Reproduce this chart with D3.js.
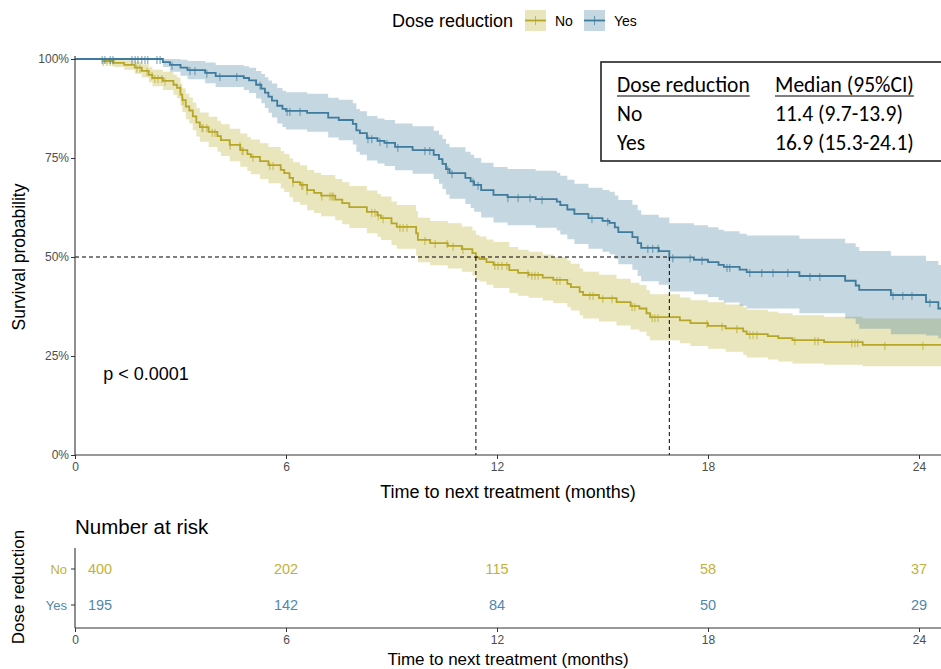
<!DOCTYPE html>
<html>
<head>
<meta charset="utf-8">
<script src="https://cdn.jsdelivr.net/npm/d3@7"></script>
<style>
  body { margin: 0; background: #fff; }
  svg { display: block; font-family: "Liberation Sans", Arial, sans-serif; }
</style>
</head>
<body>
<svg id="chart" width="941" height="669"></svg>
<script>
// ---- Kaplan-Meier estimates: time to next treatment by dose reduction ----
const groups = ["No", "Yes"];

// Group "No": step times (months), survival, 95% CI bounds, censoring times
const noTime  = [0, 0.8, 1.1, 1.4, 1.7, 1.9, 2.1, 2.2, 2.5, 2.8, 2.9, 3.0, 3.05, 3.15, 3.25, 3.35, 3.45, 3.55, 3.8, 4.05, 4.15, 4.4, 4.7, 4.9, 5.0, 5.26, 5.5, 5.85, 5.95, 6.1, 6.2, 6.4, 6.6, 6.8, 7.0, 7.4, 7.6, 7.8, 8.3, 8.6, 8.7, 9.0, 9.15, 9.7, 9.75, 10.1, 10.6, 11.0, 11.3, 11.4, 11.5, 11.7, 11.9, 12.35, 12.6, 12.9, 13.3, 13.6, 14.0, 14.1, 14.35, 14.45, 14.9, 15.4, 15.8, 16.05, 16.25, 16.35, 17.2, 17.5, 18.0, 18.5, 19.0, 19.1, 19.7, 20.0, 20.4, 21.3, 22.4];
const noSurv  = [1, 0.995, 0.99, 0.985, 0.978, 0.97, 0.96, 0.952, 0.945, 0.935, 0.927, 0.91, 0.896, 0.88, 0.87, 0.855, 0.84, 0.828, 0.816, 0.805, 0.795, 0.783, 0.77, 0.76, 0.753, 0.742, 0.732, 0.72, 0.712, 0.70, 0.689, 0.682, 0.669, 0.662, 0.655, 0.645, 0.636, 0.626, 0.614, 0.605, 0.598, 0.585, 0.576, 0.56, 0.543, 0.535, 0.528, 0.52, 0.51, 0.499, 0.495, 0.487, 0.48, 0.467, 0.46, 0.455, 0.448, 0.442, 0.432, 0.424, 0.412, 0.404, 0.396, 0.386, 0.376, 0.37, 0.358, 0.348, 0.34, 0.333, 0.326, 0.32, 0.312, 0.305, 0.30, 0.295, 0.29, 0.285, 0.278];
const noLower = [1, 0.988, 0.98, 0.973, 0.963, 0.953, 0.941, 0.931, 0.922, 0.91, 0.901, 0.882, 0.866, 0.848, 0.837, 0.82, 0.804, 0.791, 0.778, 0.766, 0.755, 0.742, 0.728, 0.717, 0.709, 0.697, 0.686, 0.673, 0.664, 0.651, 0.639, 0.632, 0.618, 0.611, 0.603, 0.593, 0.583, 0.573, 0.56, 0.551, 0.543, 0.53, 0.521, 0.504, 0.487, 0.479, 0.471, 0.463, 0.453, 0.442, 0.438, 0.43, 0.422, 0.409, 0.402, 0.397, 0.39, 0.384, 0.373, 0.365, 0.353, 0.345, 0.337, 0.327, 0.317, 0.311, 0.30, 0.29, 0.282, 0.275, 0.268, 0.261, 0.253, 0.246, 0.241, 0.236, 0.231, 0.228, 0.224];
const noUpper = [1, 1, 1, 0.997, 0.993, 0.987, 0.979, 0.973, 0.968, 0.96, 0.953, 0.938, 0.926, 0.912, 0.903, 0.89, 0.876, 0.865, 0.854, 0.844, 0.835, 0.824, 0.812, 0.803, 0.797, 0.787, 0.778, 0.767, 0.76, 0.749, 0.739, 0.732, 0.72, 0.713, 0.707, 0.697, 0.689, 0.679, 0.668, 0.659, 0.653, 0.64, 0.631, 0.616, 0.599, 0.591, 0.585, 0.577, 0.567, 0.556, 0.552, 0.544, 0.538, 0.525, 0.518, 0.513, 0.506, 0.50, 0.491, 0.483, 0.471, 0.463, 0.455, 0.445, 0.435, 0.429, 0.416, 0.406, 0.398, 0.391, 0.386, 0.38, 0.373, 0.367, 0.362, 0.358, 0.353, 0.349, 0.345];
const noCensor = [0.8, 0.91, 1.0, 1.08, 1.76, 1.85, 2.05, 2.19, 2.27, 2.36, 2.47, 2.56, 2.99, 3.07, 3.61, 3.64, 3.75, 3.9, 3.98, 4.41, 4.69, 4.75, 4.78, 5.06, 5.54, 5.63, 6.2, 6.45, 6.48, 6.6, 7.02, 7.25, 7.31, 7.34, 8.44, 8.53, 8.62, 8.76, 9.24, 9.33, 9.44, 9.95, 10.24, 10.58, 10.75, 11.03, 11.94, 12.03, 12.14, 12.28, 12.88, 12.99, 13.08, 13.17, 13.7, 13.79, 14.64, 14.73, 15.01, 15.27, 15.84, 15.92, 16.41, 16.49, 16.58, 17.97, 18.4, 18.82, 19.19, 19.28, 19.39, 20.47, 21.04, 21.13, 22.09, 22.18, 22.26, 23.03, 24.11];

// Group "Yes"
const yesTime  = [0, 2.5, 2.7, 3.0, 3.2, 3.7, 4.0, 4.8, 4.95, 5.15, 5.3, 5.4, 5.5, 5.6, 5.75, 5.9, 6.0, 6.6, 7.2, 7.5, 7.9, 8.0, 8.1, 8.3, 8.6, 8.8, 9.1, 9.6, 10.2, 10.35, 10.45, 10.55, 10.65, 11.1, 11.25, 11.35, 11.55, 11.9, 12.3, 13.1, 13.7, 13.8, 14.0, 14.2, 14.6, 15.0, 15.2, 15.35, 15.45, 15.85, 16.0, 16.1, 16.6, 16.9, 17.6, 18.0, 18.3, 18.45, 18.9, 19.1, 20.6, 21.9, 22.2, 22.3, 23.2, 24.2, 24.55];
const yesSurv  = [1, 0.992, 0.985, 0.978, 0.972, 0.965, 0.957, 0.952, 0.946, 0.935, 0.925, 0.915, 0.905, 0.895, 0.882, 0.874, 0.869, 0.864, 0.852, 0.846, 0.836, 0.82, 0.813, 0.80, 0.793, 0.788, 0.778, 0.77, 0.758, 0.747, 0.735, 0.722, 0.712, 0.70, 0.691, 0.682, 0.669, 0.657, 0.651, 0.646, 0.64, 0.631, 0.62, 0.609, 0.598, 0.591, 0.586, 0.575, 0.563, 0.55, 0.535, 0.523, 0.515, 0.499, 0.493, 0.487, 0.48, 0.475, 0.468, 0.462, 0.452, 0.44, 0.428, 0.417, 0.404, 0.386, 0.37];
const yesLower = [1, 0.98, 0.968, 0.958, 0.949, 0.939, 0.929, 0.922, 0.914, 0.90, 0.888, 0.876, 0.864, 0.852, 0.837, 0.828, 0.822, 0.816, 0.802, 0.795, 0.784, 0.766, 0.758, 0.744, 0.736, 0.73, 0.719, 0.71, 0.697, 0.685, 0.672, 0.658, 0.647, 0.634, 0.624, 0.614, 0.60, 0.587, 0.58, 0.574, 0.567, 0.557, 0.545, 0.533, 0.521, 0.513, 0.507, 0.495, 0.482, 0.468, 0.452, 0.439, 0.43, 0.413, 0.406, 0.399, 0.391, 0.385, 0.377, 0.37, 0.358, 0.345, 0.331, 0.319, 0.305, 0.302, 0.295];
const yesUpper = [1, 1, 1, 0.998, 0.995, 0.991, 0.985, 0.982, 0.978, 0.97, 0.962, 0.954, 0.946, 0.938, 0.927, 0.92, 0.916, 0.912, 0.902, 0.897, 0.888, 0.874, 0.868, 0.856, 0.85, 0.846, 0.837, 0.83, 0.819, 0.809, 0.798, 0.786, 0.777, 0.766, 0.758, 0.75, 0.738, 0.727, 0.722, 0.718, 0.713, 0.705, 0.695, 0.685, 0.675, 0.669, 0.665, 0.655, 0.644, 0.632, 0.618, 0.607, 0.60, 0.585, 0.58, 0.575, 0.569, 0.565, 0.559, 0.554, 0.546, 0.535, 0.525, 0.515, 0.503, 0.49, 0.48];
const yesCensor = [0.77, 0.85, 1.0, 1.08, 1.62, 1.71, 1.79, 1.9, 1.99, 2.07, 2.33, 2.42, 2.76, 3.27, 3.41, 3.75, 4.12, 4.6, 5.26, 6.03, 6.11, 6.4, 8.33, 8.44, 8.67, 8.87, 9.18, 9.95, 10.09, 10.6, 10.72, 11.32, 11.46, 12.31, 12.6, 12.94, 13.28, 14.7, 15.15, 16.29, 16.43, 16.58, 17.0, 17.49, 17.83, 18.54, 18.62, 19.19, 19.53, 19.85, 20.27, 20.9, 21.18, 23.26, 23.54, 23.8, 24.31];

const followUpEnd = 25.5;

// Medians and table text
const medianTimes = [11.4, 16.9];
const medianLabels = ["11.4 (9.7-13.9)", "16.9 (15.3-24.1)"];
const pValueText = "p < 0.0001";

// Axes
const xTicks = [0, 6, 12, 18, 24];
const yTicks = [0, 0.25, 0.5, 0.75, 1];

// Number at risk
const riskTimes = [0, 6, 12, 18, 24];
const riskNo  = [400, 202, 115, 58, 37];
const riskYes = [195, 142, 84, 50, 29];

// ---- drawing ----
const colors = { No: "#B6A826", Yes: "#3E7B9D" };
const riskColors = { No: "#C2B23A", Yes: "#4F88AA" };
const W = 941, H = 669;
const svg = d3.select("#chart");

const x = d3.scaleLinear().domain([0, 24]).range([75, 919]);
const y = d3.scaleLinear().domain([0, 1]).range([455, 59]);

const series = [
  { name: "No", time: noTime, surv: noSurv, lower: noLower, upper: noUpper, censor: noCensor },
  { name: "Yes", time: yesTime, surv: yesSurv, lower: yesLower, upper: yesUpper, censor: yesCensor }
].map(s => {
  const pts = s.time.map((t, i) => ({ t, s: s.surv[i], lo: s.lower[i], hi: s.upper[i] }));
  const last = pts[pts.length - 1];
  pts.push({ t: followUpEnd, s: last.s, lo: last.lo, hi: last.hi });
  return Object.assign({}, s, { pts });
});

svg.append("defs").append("clipPath").attr("id", "panel")
  .append("rect").attr("x", x(0)).attr("y", 40).attr("width", W - x(0)).attr("height", y(0) - 40);

const panel = svg.append("g").attr("clip-path", "url(#panel)");

const area = d3.area().curve(d3.curveStepAfter)
  .x(d => x(d.t)).y0(d => y(d.lo)).y1(d => y(d.hi));
const line = d3.line().curve(d3.curveStepAfter)
  .x(d => x(d.t)).y(d => y(d.s));

series.forEach(s => {
  panel.append("path").datum(s.pts).attr("d", area)
    .attr("fill", colors[s.name]).attr("fill-opacity", 0.3).attr("stroke", "none");
});

series.forEach(s => {
  panel.append("path").datum(s.pts).attr("d", line)
    .attr("fill", "none").attr("stroke", colors[s.name]).attr("stroke-width", 1.8);
  const survAt = t => s.surv[Math.max(0, d3.bisectRight(s.time, t) - 1)];
  panel.selectAll(null).data(s.censor).enter().append("line")
    .attr("x1", d => x(d)).attr("x2", d => x(d))
    .attr("y1", d => y(survAt(d)) - 3).attr("y2", d => y(survAt(d)) + 5)
    .attr("stroke", colors[s.name]).attr("stroke-opacity", 0.75).attr("stroke-width", 1);
});

// Median reference lines
const dash = svg.append("g").attr("stroke", "#000").attr("stroke-width", 1).attr("stroke-dasharray", "4,3").attr("fill", "none");
dash.append("line").attr("x1", x(0)).attr("x2", x(d3.max(medianTimes))).attr("y1", y(0.5)).attr("y2", y(0.5));
medianTimes.forEach(m => {
  dash.append("line").attr("x1", x(m)).attr("x2", x(m)).attr("y1", y(0.5)).attr("y2", y(0));
});

// Axes of the survival panel
const axisColor = "#333";
const tickText = "#4D4D4D";
const yAxis = svg.append("g").attr("transform", `translate(${x(0)},0)`)
  .call(d3.axisLeft(y).tickValues(yTicks).tickFormat(d3.format(".0%")).tickSize(4).tickSizeOuter(0));
yAxis.select(".domain").remove();
svg.append("line").attr("x1", x(0)).attr("x2", x(0)).attr("y1", y(1) - 3).attr("y2", y(0)).attr("stroke", axisColor).attr("stroke-width", 1.1);

const xAxis = svg.append("g").attr("transform", `translate(0,${y(0)})`)
  .call(d3.axisBottom(x).tickValues(xTicks).tickFormat(d3.format("d")).tickSize(4).tickSizeOuter(0));
xAxis.select(".domain").remove();
svg.append("line").attr("x1", x(0)).attr("x2", W).attr("y1", y(0)).attr("y2", y(0)).attr("stroke", axisColor).attr("stroke-width", 1.1);

[yAxis, xAxis].forEach(g => {
  g.selectAll(".tick line").attr("stroke", axisColor);
  g.selectAll(".tick text").attr("fill", tickText).attr("font-size", 12).attr("font-family", "Liberation Sans, Arial, sans-serif");
});
yAxis.selectAll(".tick text").attr("x", -6);
xAxis.selectAll(".tick text").attr("y", 7);

svg.append("text").attr("x", (x(0) + W) / 2).attr("y", 498).attr("text-anchor", "middle")
  .attr("font-size", 18).text("Time to next treatment (months)");
svg.append("text").attr("transform", `translate(25,${y(0.5)}) rotate(-90)`).attr("text-anchor", "middle")
  .attr("font-size", 17.5).text("Survival probability");

svg.append("text").attr("x", x(0.8)).attr("y", y(0.19)).attr("font-size", 18).text(pValueText);

// Legend
const legend = svg.append("g");
legend.append("text").attr("x", 392).attr("y", 27).attr("font-size", 18).text("Dose reduction");
const keyX = { No: 525, Yes: 584 };
groups.forEach(g => {
  const k = legend.append("g").attr("transform", `translate(${keyX[g]},10)`);
  k.append("rect").attr("width", 21).attr("height", 21).attr("fill", colors[g]).attr("fill-opacity", 0.3);
  k.append("line").attr("x1", 0).attr("x2", 21).attr("y1", 10.5).attr("y2", 10.5).attr("stroke", colors[g]).attr("stroke-width", 1.8);
  k.append("line").attr("x1", 10.5).attr("x2", 10.5).attr("y1", 6).attr("y2", 15).attr("stroke", colors[g]).attr("stroke-opacity", 0.75);
  k.append("text").attr("x", 30).attr("y", 16).attr("font-size", 14).text(g);
});

// Median table
const tbl = svg.append("g").attr("font-family", "Carlito, Lato, 'Open Sans', sans-serif").attr("font-size", 21.5);
tbl.append("rect").attr("x", 601).attr("y", 62).attr("width", 360).attr("height", 99)
  .attr("fill", "#fff").attr("stroke", "#222").attr("stroke-width", 1.6);
const headers = [["Dose reduction", 617], ["Median (95%CI)", 775]];
headers.forEach(([txt, hx]) => {
  const t = tbl.append("text").attr("x", hx).attr("y", 92).text(txt);
  const w = t.node().getComputedTextLength();
  tbl.append("line").attr("x1", hx).attr("x2", hx + w).attr("y1", 96).attr("y2", 96).attr("stroke", "#000").attr("stroke-width", 1.2);
});
groups.forEach((g, i) => {
  tbl.append("text").attr("x", 617).attr("y", 121 + i * 29).text(g);
  tbl.append("text").attr("x", 775).attr("y", 121 + i * 29).text(medianLabels[i]);
});

// ---- Number at risk table ----
const rt = svg.append("g");
rt.append("text").attr("x", x(0)).attr("y", 534).attr("font-size", 20.5).text("Number at risk");
const rowY = d3.scalePoint().domain(groups).range([569, 605]);
const rAxisY = 628;
rt.append("line").attr("x1", x(0)).attr("x2", x(0)).attr("y1", 548).attr("y2", rAxisY).attr("stroke", axisColor).attr("stroke-width", 1.1);
rt.append("line").attr("x1", x(0)).attr("x2", W).attr("y1", rAxisY).attr("y2", rAxisY).attr("stroke", axisColor).attr("stroke-width", 1.1);
groups.forEach(g => {
  rt.append("line").attr("x1", x(0) - 4).attr("x2", x(0)).attr("y1", rowY(g)).attr("y2", rowY(g)).attr("stroke", axisColor);
  rt.append("text").attr("x", x(0) - 8).attr("y", rowY(g) + 5).attr("text-anchor", "end")
    .attr("font-size", 13).attr("fill", riskColors[g]).text(g);
});
const riskRows = { No: riskNo, Yes: riskYes };
groups.forEach(g => {
  rt.selectAll(null).data(riskTimes).enter().append("text")
    .attr("x", (d, i) => i === 0 ? x(d) + 25 : x(d))
    .attr("y", rowY(g) + 5).attr("text-anchor", "middle")
    .attr("font-size", 14.5).attr("fill", riskColors[g])
    .text((d, i) => riskRows[g][i]);
});
const rxAxis = rt.append("g").attr("transform", `translate(0,${rAxisY})`)
  .call(d3.axisBottom(x).tickValues(xTicks).tickFormat(d3.format("d")).tickSize(4).tickSizeOuter(0));
rxAxis.select(".domain").remove();
rxAxis.selectAll(".tick line").attr("stroke", axisColor);
rxAxis.selectAll(".tick text").attr("fill", tickText).attr("font-size", 12).attr("y", 7).attr("font-family", "Liberation Sans, Arial, sans-serif");
rt.append("text").attr("x", (x(0) + W) / 2).attr("y", 665).attr("text-anchor", "middle")
  .attr("font-size", 17).text("Time to next treatment (months)");
rt.append("text").attr("transform", `translate(24,${(rowY.range()[0] + rowY.range()[1]) / 2}) rotate(-90)`)
  .attr("text-anchor", "middle").attr("font-size", 17).text("Dose reduction");
</script>
</body>
</html>
